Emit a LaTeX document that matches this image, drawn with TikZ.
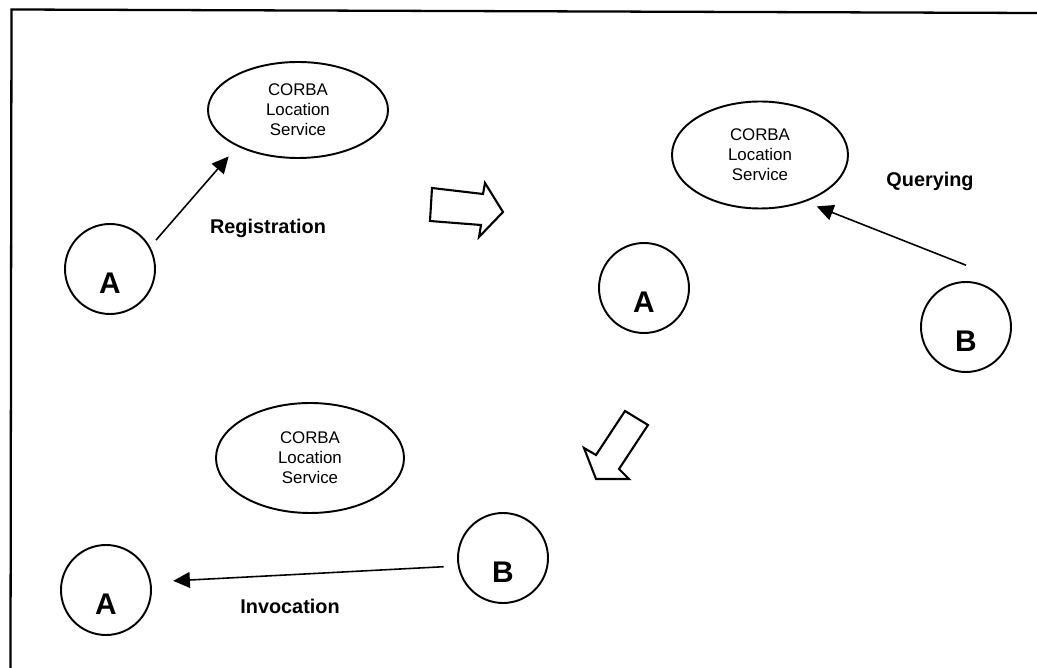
\documentclass[tikz,border=0pt]{standalone}
\usepackage{fontspec}
\setmainfont{Liberation Sans}
\usetikzlibrary{shapes.geometric,arrows.meta}

\begin{document}
\begin{tikzpicture}[x=0.2mm, y=-0.2mm,
	locsvc/.style={draw, ellipse, line width=1.1pt, inner sep=0pt, align=center,
		font=\fontsize{9.6}{11.3}\selectfont, minimum width=36mm, minimum height=20mm},
	agent/.style={draw, circle, line width=1.1pt, minimum size=18mm, inner sep=0pt},
	letter/.style={font=\fontsize{17}{20}\selectfont\bfseries, yshift=-8pt},
	stage/.style={font=\fontsize{11.3}{13}\selectfont\bfseries},
	conn/.style={line width=0.9pt, -{Triangle[length=9.5pt,width=9pt]}},
	bigarrow/.style={line width=1.2pt, line join=miter}]
	\useasboundingbox (0,0) rectangle (1037,668);
	\draw[line width=1.3pt] (1037,13)--(11.5,9.5)--(10.5,668);

	% registration
	\node[locsvc, minimum height=19.2mm] (loc1) at (298,110) {CORBA\\Location\\Service};
	\node[agent, label={[letter]center:A}] (a1) at (110,269) {};
	\node[stage] (reg) at (268,228) {Registration};
	\draw[conn, shorten <=5pt, shorten >=7.5pt] (a1.29)--(loc1.211);

	\draw[bigarrow] (432,188)--(483,194)--(485,183)--(503,212)--(479,237)--(481,225)--(430,221)--cycle;

	% querying
	\node[locsvc, minimum width=35.2mm, minimum height=21.4mm] (loc2) at (760,155) {CORBA\\Location\\Service};
	\node[agent, label={[letter]center:A}] (a2) at (644,288) {};
	\node[agent, label={[letter]center:B}] (b1) at (966,327) {};
	\node[stage] (qry) at (930,181) {Querying};
	\draw[conn, shorten >=7pt] ([yshift=9pt]b1.north)--(loc2.314);

	\draw[bigarrow] (625,411)--(648,425)--(619,469)--(629,479)--(596,479)--(584,448)--(596,455)--cycle;

	% invocation
	\node[locsvc, minimum width=37.6mm, minimum height=22mm] (loc3) at (310,458) {CORBA\\Location\\Service};
	\node[agent, label={[letter]center:B}] (b2) at (503,558) {};
	\node[agent, label={[letter]center:A}] (a3) at (106,590) {};
	\node[stage] (inv) at (290,606) {Invocation};
	\draw[conn, shorten <=8pt, shorten >=12.5pt] (b2.190)--(a3.10);
\end{tikzpicture}
\end{document}
